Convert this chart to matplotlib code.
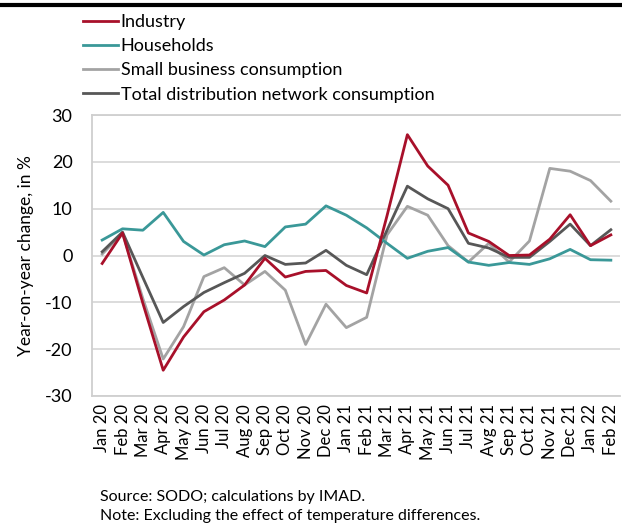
import matplotlib
matplotlib.use('Agg')
import matplotlib.pyplot as plt
from matplotlib.lines import Line2D

plt.rcParams['font.family'] = ['Lato', 'DejaVu Sans']
plt.rcParams['axes.unicode_minus'] = False

months = ['Jan 20', 'Feb 20', 'Mar 20', 'Apr 20', 'May 20', 'Jun 20', 'Jul 20', 'Aug 20',
          'Sep 20', 'Oct 20', 'Nov 20', 'Dec 20', 'Jan 21', 'Feb 21', 'Mar 21', 'Apr 21',
          'May 21', 'Jun 21', 'Jul 21', 'Avg 21', 'Sep 21', 'Oct 21', 'Nov 21', 'Dec 21',
          'Jan 22', 'Feb 22']

industry = [-1.7, 4.8, -10.2, -24.5, -17.4, -12.0, -9.5, -6.3, -0.6, -4.6, -3.4, -3.2,
            -6.4, -8.0, 8.5, 25.8, 19.1, 15.0, 4.8, 3.0, 0.0, 0.1, 3.5, 8.7, 2.1, 4.4]
households = [3.3, 5.7, 5.4, 9.2, 3.0, 0.1, 2.3, 3.1, 1.9, 6.1, 6.7, 10.6,
              8.6, 5.9, 2.6, -0.6, 0.9, 1.7, -1.4, -2.1, -1.5, -1.9, -0.7, 1.3, -0.9, -1.0]
small_business = [0.3, 4.8, -9.2, -22.1, -15.2, -4.5, -2.6, -6.3, -3.4, -7.4, -19.0, -10.4,
                  -15.4, -13.2, 4.4, 10.5, 8.6, 2.1, -1.4, 2.6, -1.4, 3.1, 18.6, 18.0, 16.0, 11.6]
total = [0.8, 5.0, -4.7, -14.3, -10.9, -7.9, -5.8, -3.8, 0.0, -1.9, -1.6, 1.1,
         -2.1, -4.1, 5.4, 14.8, 12.1, 10.0, 2.6, 1.6, -0.4, -0.4, 3.0, 6.7, 2.1, 5.5]

x = list(range(len(months)))

fig = plt.figure(figsize=(6.22, 5.24), dpi=100)
ax = fig.add_axes([92/622, 1-396/524, 528/622, 281/524])

lw = 2.0
ax.plot(x, small_business, color='#a3a3a3', linewidth=lw, label='Small business consumption', zorder=3)
ax.plot(x, total, color='#575757', linewidth=lw, label='Total distribution network consumption', zorder=4)
ax.plot(x, households, color='#3a9898', linewidth=lw, label='Households', zorder=5)
ax.plot(x, industry, color='#a8102a', linewidth=lw, label='Industry', zorder=6)

ax.set_ylim(-30, 30)
ax.set_yticks(range(-30, 31, 10))
ax.set_xlim(-0.5, 25.45)
ax.set_xticks(x)
ax.set_xticklabels(months, rotation=90, fontsize=12)
ax.tick_params(axis='y', labelsize=13, length=0, pad=14)
ax.tick_params(axis='x', length=0, pad=6)
ax.yaxis.grid(True, color='#d9d9d9', linewidth=1.3)
ax.set_axisbelow(True)
for s in ax.spines.values():
    s.set_color('#cfcfcf')
    s.set_linewidth(1.3)
ax.spines['right'].set_visible(False)
ax.set_ylabel('Year-on-year change, in %', fontsize=12.5, labelpad=8)

h, l = ax.get_legend_handles_labels()
order = [3, 2, 0, 1]
fig.legend([h[i] for i in order], [l[i] for i in order], loc='upper left',
           bbox_to_anchor=(76/622, 1-7/524), frameon=False, fontsize=13,
           handlelength=1.9, handletextpad=0.17, labelspacing=0.45, borderaxespad=0)

fig.add_artist(Line2D([0, 1], [1-5/524, 1-5/524], color='black', linewidth=3))

fig.text(100/622, 1-497/524, 'Source: SODO; calculations by IMAD.', fontsize=11.5, va='center')
fig.text(100/622, 1-516/524, 'Note: Excluding the effect of temperature differences.', fontsize=11.5, va='center')

fig.savefig('out.png', dpi=100)
